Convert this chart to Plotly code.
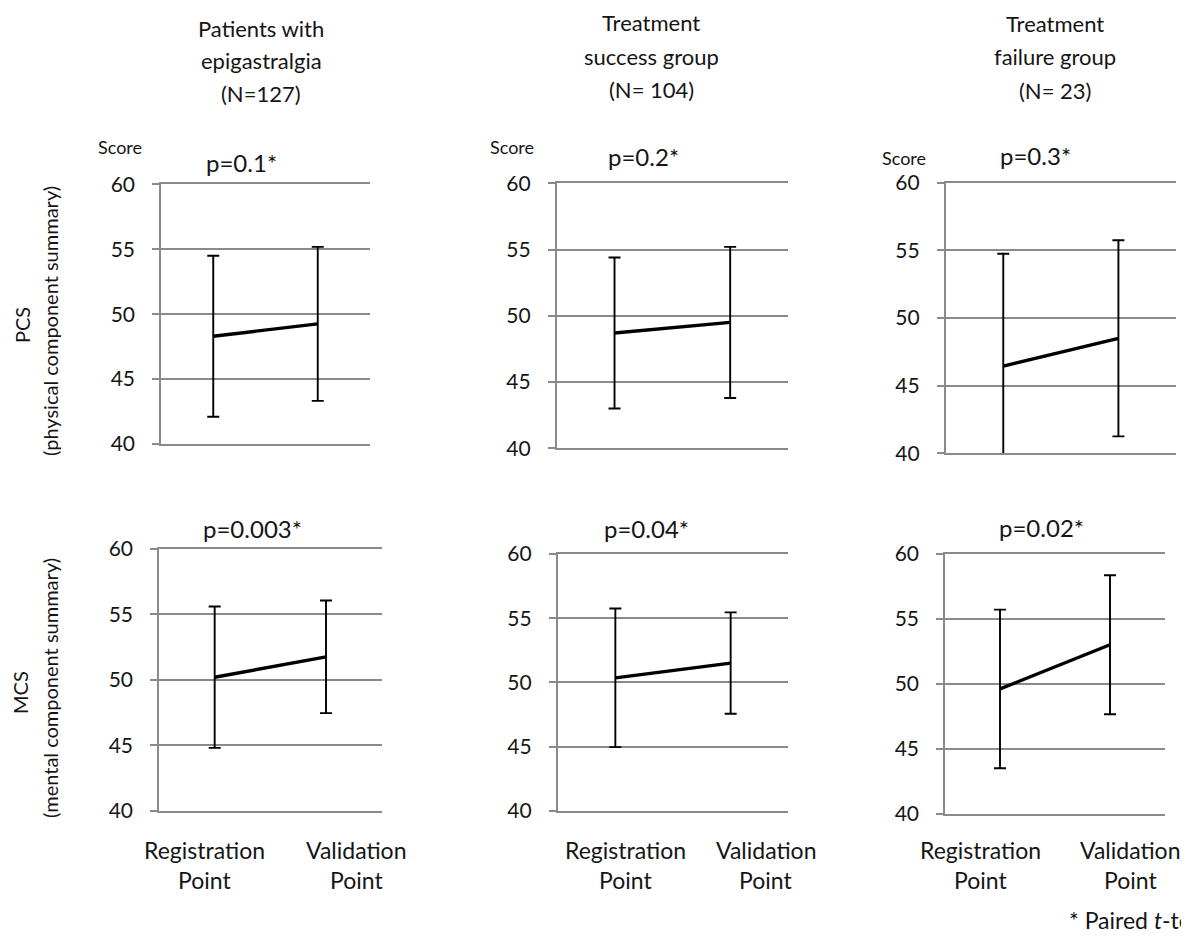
import plotly.graph_objects as go

# ---------------- data ----------------
group_titles = [
    ["Patients with", "epigastralgia", "(N=127)"],
    ["Treatment", "success group", "(N= 104)"],
    ["Treatment", "failure group", "(N= 23)"],
]
time_points = ["Registration Point", "Validation Point"]
time_labels = [["Registration", "Point"], ["Validation", "Point"]]

pcs_mean = [[48.3, 49.25], [48.7, 49.5], [46.45, 48.5]]
pcs_sd = [[6.2, 5.93], [5.7, 5.7], [8.3, 7.25]]
pcs_p = ["p=0.1*", "p=0.2*", "p=0.3*"]

mcs_mean = [[50.2, 51.76], [50.35, 51.5], [49.62, 53.02]]
mcs_sd = [[5.4, 4.3], [5.4, 3.95], [6.1, 5.35]]
mcs_p = ["p=0.003*", "p=0.04*", "p=0.02*"]

row_labels = [["PCS", "(physical component summary)"], ["MCS", "(mental component summary)"]]
y_ticks = [40, 45, 50, 55, 60]
score_label = "Score"
footnote = "* Paired <i>t</i>-test"

# ---------------- layout geometry (pixels) ----------------
W, H = 1189, 945
OFF = 8  # page body margin
FONT = "Lato, 'Open Sans', sans-serif"
TXT = "#151515"
GRID = "#8a8a8a"

# (x0, x1, ytop, ybottom) of each plot area
boxes = [
    (161, 370, 184.3, 444.0),
    (556.7, 788, 183.3, 448.3),
    (945.7, 1176, 182.7, 453.3),
    (159, 381.7, 549, 810.7),
    (557.7, 788.3, 554, 810.7),
    (945, 1165, 554, 814),
]
p_pos = [(241, 162), (643, 157), (1035, 155), (252, 528), (646, 528), (1041, 527)]
score_pos = [(120, 147), (512, 147), (904, 158)]
title_pos = [(261, 28), (651, 23), (1055, 24)]
title_step = 33
xlab_shift = [(-10, 30), (10, 35), (-20, 20)]
xlab_y = (850, 880)
row_pos = [((22, 325), (50, 321)), ((20, 693), (50, 688))]


def px(x):
    return (x - OFF) / W


def py(y):
    return 1 - (y - OFF) / H


fig = go.Figure()
annotations = []
layout = {}

means = [pcs_mean, mcs_mean]
sds = [pcs_sd, mcs_sd]
pvals = [pcs_p, mcs_p]

for r in range(2):
    for c in range(3):
        i = r * 3 + c
        n = i + 1
        xa = "x" if n == 1 else f"x{n}"
        ya = "y" if n == 1 else f"y{n}"
        fig.add_trace(go.Scatter(
            x=time_points, y=means[r][c],
            mode="lines",
            line=dict(color="black", width=3.4),
            error_y=dict(type="data", array=sds[r][c], visible=True,
                         color="black", thickness=1.9, width=6),
            xaxis=xa, yaxis=ya, showlegend=False, hoverinfo="skip",
        ))
        x0, x1, yt, yb = boxes[i]
        layout[f"xaxis{n if n > 1 else ''}"] = dict(
            domain=[px(x0), px(x1)], anchor=ya,
            type="category", range=[-0.5, 1.5],
            showgrid=False, showticklabels=False, ticks="",
            showline=True, mirror=True, linecolor=GRID, linewidth=1.6,
            zeroline=False, fixedrange=True,
        )
        layout[f"yaxis{n if n > 1 else ''}"] = dict(
            domain=[py(yb), py(yt)], anchor=xa,
            range=[40, 60], tickvals=y_ticks,
            showgrid=True, gridcolor=GRID, gridwidth=1.6,
            showline=True, linecolor=GRID, linewidth=1.6,
            ticks="outside", ticklen=7, tickcolor=GRID, tickwidth=1.6,
            ticklabelstandoff=13,
            tickfont=dict(family=FONT, size=21, color=TXT),
            zeroline=False, fixedrange=True,
        )
        # p-value labels
        annotations.append(dict(
            text=pvals[r][c], x=px(p_pos[i][0]), y=py(p_pos[i][1]),
            xref="paper", yref="paper", showarrow=False,
            xanchor="center", yanchor="middle",
            font=dict(family=FONT, size=24, color=TXT)))
        # x category labels (bottom row only)
        if r == 1:
            for k, tp in enumerate(time_points):
                for li, line in enumerate(time_labels[k]):
                    annotations.append(dict(
                        text=line, x=tp, y=py(xlab_y[li]),
                        xref=xa, yref="paper", showarrow=False,
                        xshift=xlab_shift[c][k],
                        xanchor="center", yanchor="middle",
                        font=dict(family=FONT, size=23, color=TXT)))

# column titles
for c in range(3):
    for li, line in enumerate(group_titles[c]):
        annotations.append(dict(
            text=line, x=px(title_pos[c][0]), y=py(title_pos[c][1] + li * title_step),
            xref="paper", yref="paper", showarrow=False,
            xanchor="center", yanchor="middle",
            font=dict(family=FONT, size=22, color=TXT)))

# "Score" labels
for c in range(3):
    annotations.append(dict(
        text=score_label, x=px(score_pos[c][0]), y=py(score_pos[c][1]),
        xref="paper", yref="paper", showarrow=False,
        xanchor="center", yanchor="middle",
        font=dict(family=FONT, size=18, color=TXT)))

# row labels (rotated)
for r in range(2):
    for li in range(2):
        annotations.append(dict(
            text=row_labels[r][li], x=px(row_pos[r][li][0]), y=py(row_pos[r][li][1]),
            xref="paper", yref="paper", showarrow=False, textangle=-90,
            xanchor="center", yanchor="middle",
            font=dict(family=FONT, size=20, color=TXT)))

# footnote
annotations.append(dict(
    text=footnote, x=px(1067), y=py(920), xref="paper", yref="paper",
    showarrow=False, xanchor="left", yanchor="middle",
    font=dict(family=FONT, size=23, color=TXT)))

fig.update_layout(
    width=W, height=H, autosize=False,
    margin=dict(l=0, r=0, t=0, b=0, autoexpand=False),
    paper_bgcolor="white", plot_bgcolor="white",
    annotations=annotations,
    **layout,
)

fig.write_html("out.html")
